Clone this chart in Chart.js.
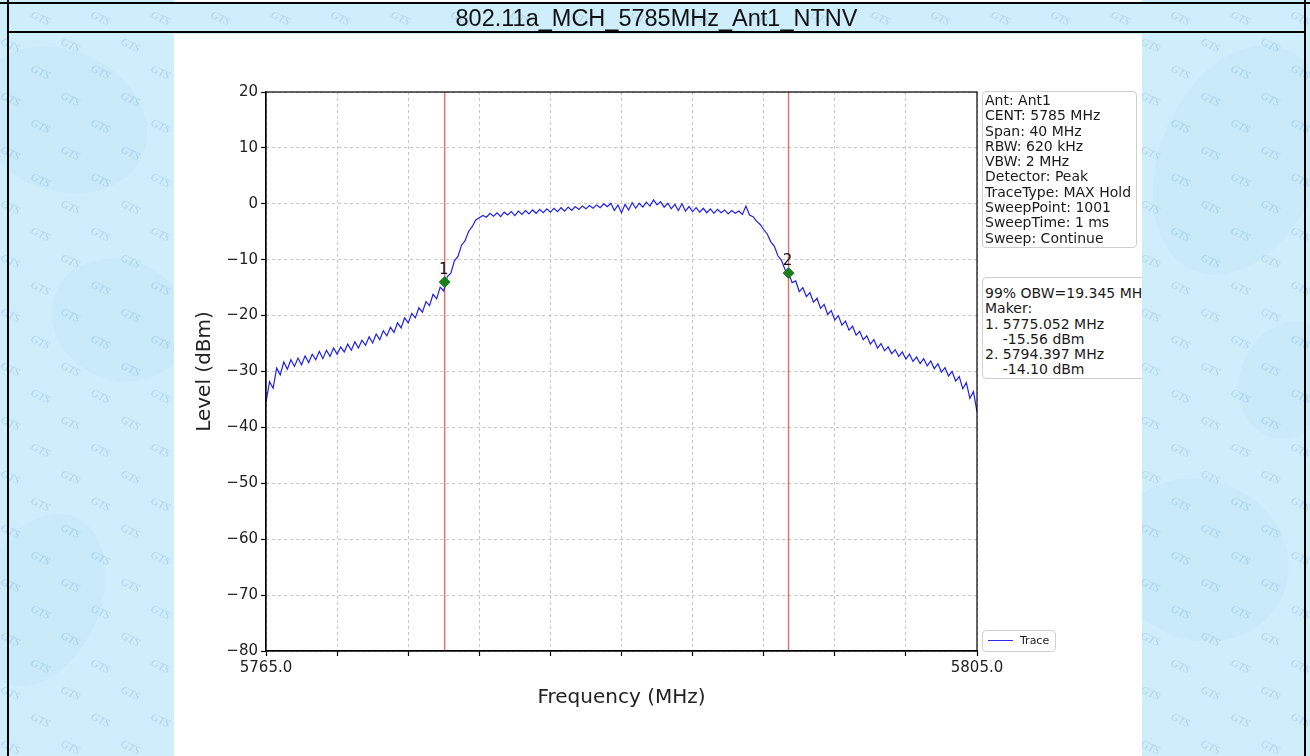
<!DOCTYPE html>
<html><head><meta charset="utf-8">
<script src="https://cdn.jsdelivr.net/npm/chart.js@4.4.0/dist/chart.umd.min.js"></script>
<style>
html,body{margin:0;padding:0;}
body{width:1310px;height:756px;position:relative;overflow:hidden;background:#cfeefc;font-family:"DejaVu Sans",sans-serif;}
#bg{position:absolute;left:0;top:0;}
.bl{position:absolute;background:#000;}
#title{position:absolute;left:9px;top:4px;width:1295px;height:27px;line-height:29px;text-align:center;font-family:"Liberation Sans",Arial,sans-serif;font-size:23.5px;color:#111;}
#panel{position:absolute;left:174px;top:34px;width:968px;height:722px;background:#fff;overflow:hidden;}
#topwhite{position:absolute;left:174px;top:0;width:968px;height:2px;background:#fff;}
.box{position:absolute;border:1px solid #cfcfcf;border-radius:4px;background:#fff;font-size:14px;line-height:15.3px;white-space:pre;color:#1a1a1a;font-family:"DejaVu Sans",sans-serif;}
#chart{position:absolute;left:0;top:0;}
</style></head>
<body>
<canvas id="bg" width="1310" height="756"></canvas>
<div id="topwhite"></div>
<div class="bl" style="left:0;top:2px;width:1310px;height:2px"></div>
<div class="bl" style="left:7px;top:31px;width:1299px;height:2px"></div>
<div class="bl" style="left:7px;top:0;width:2px;height:756px"></div>
<div class="bl" style="left:1304px;top:0;width:2px;height:756px"></div>
<div id="title"></div>
<div id="panel">
  <canvas id="chart" width="968" height="722"></canvas>
  <div id="info" class="box" style="left:808px;top:57px;width:151px;height:151px;padding:1px 0 3px 2px;"></div>
  <div id="obw" class="box" style="left:808px;top:243px;width:190px;height:92px;padding:8px 0 0 2px;"></div>
  <div id="legend" class="box" style="left:808px;top:596px;width:72px;height:20px;font-size:11px;line-height:20px;">
    <span style="position:absolute;left:5px;top:9px;width:25px;height:0;border-top:1.3px solid #2a2ae6;"></span>
    <span id="legendText" style="position:absolute;left:37px;top:0;"></span>
  </div>
</div>
<script>
// ---- data ----
const chartTitle = '802.11a_MCH_5785MHz_Ant1_NTNV';
const START_MHZ = 5765;
const STEP_MHZ = 0.2;
const traceName = 'Trace';
const traceLevels = [
 -35.5, -31.8, -33.0, -29.4, -30.6, -28.3, -29.6, -27.9, -29.1, -27.6,
 -28.8, -27.2, -28.4, -26.9, -27.9, -26.4, -27.7, -26.2, -27.3, -25.8,
 -26.9, -25.6, -26.5, -25.1, -26.2, -24.7, -25.8, -24.4, -25.3, -23.8,
 -24.9, -23.3, -24.3, -22.7, -23.6, -22.1, -23.0, -21.3, -22.2, -20.4,
 -21.3, -19.6, -20.4, -18.6, -19.4, -17.5, -18.2, -16.2, -17.0, -14.9,
 -15.6, -13.0, -12.4, -10.2, -9.4, -7.4, -6.6, -4.9, -4.1, -2.9,
 -2.5, -2.1, -2.4, -1.7, -2.2, -1.6, -2.3, -1.5, -2.0, -1.4,
 -2.1, -1.3, -1.9, -1.2, -1.8, -1.1, -1.7, -1.0, -1.6, -0.9,
 -1.5, -0.8, -1.4, -0.7, -1.3, -0.6, -1.2, -0.5, -1.0, -0.4,
 -0.9, -0.3, -0.8, -0.2, -0.7, 0.0, -0.5, 0.1, -1.2, -0.2,
 -1.6, -0.1, -1.1, 0.2, -0.8, 0.1, -0.6, 0.3, -0.4, 0.7,
 -0.2, 0.4, -0.6, 0.1, -0.9, -0.1, -1.2, 0.0, -1.3, -0.5,
 -1.4, -0.7, -1.5, -0.8, -1.6, -0.9, -1.7, -1.0, -1.6, -1.1,
 -1.8, -1.2, -1.7, -1.3, -1.9, -0.4, -2.0, -2.3, -3.1, -3.7,
 -4.6, -5.4, -6.8, -7.6, -9.3, -10.1, -11.8, -12.4, -14.1, -13.8,
 -15.7, -15.0, -16.6, -15.9, -17.6, -16.9, -18.7, -18.0, -19.8, -19.1,
 -20.8, -20.0, -21.7, -21.0, -22.6, -21.9, -23.5, -22.8, -24.3, -23.6,
 -25.1, -24.3, -25.8, -25.0, -26.3, -25.6, -26.8, -26.1, -27.3, -26.5,
 -27.8, -26.9, -28.2, -27.4, -28.6, -27.7, -29.0, -28.1, -29.5, -28.6,
 -30.1, -29.3, -30.8, -30.0, -31.7, -30.9, -33.1, -32.0, -34.8, -33.6,
 -37.2
];
const markerNames = ['1', '2'];
const markerFreqs = [5775.052, 5794.397];
const markerLevels = [-14.0, -12.4];
const X_MIN = 5765, X_MAX = 5805;
const xTickValues = [5765, 5769, 5773, 5777, 5781, 5785, 5789, 5793, 5797, 5801, 5805];
const xTickLabels = ['5765.0', '', '', '', '', '', '', '', '', '', '5805.0'];
const Y_MIN = -80, Y_MAX = 20, Y_STEP = 10;
const xTitle = 'Frequency (MHz)';
const yTitle = 'Level (dBm)';
const infoLines = ['Ant: Ant1', 'CENT: 5785 MHz', 'Span: 40 MHz', 'RBW: 620 kHz', 'VBW: 2 MHz',
  'Detector: Peak', 'TraceType: MAX Hold', 'SweepPoint: 1001', 'SweepTime: 1 ms', 'Sweep: Continue'];
const obwLines = ['99% OBW=19.345 MHz', 'Maker:', '1. 5775.052 MHz', '    -15.56 dBm', '2. 5794.397 MHz', '    -14.10 dBm'];

// ---- text ----
document.getElementById('title').textContent = chartTitle;
document.getElementById('info').textContent = infoLines.join('\n');
document.getElementById('obw').textContent = obwLines.join('\n');
document.getElementById('legendText').textContent = traceName;

// ---- watermark background ----
(function(){
  const c = document.getElementById('bg').getContext('2d');
  c.fillStyle = '#cfeefc'; c.fillRect(0,0,1310,756);
  c.fillStyle = '#c8eaf9';
  [[60,120,90,70],[120,320,70,60],[1240,160,80,120],[1200,560,90,80],[40,600,60,90],[1290,380,50,60]].forEach(b=>{
    c.beginPath(); c.ellipse(b[0],b[1],b[2],b[3],0.4,0,Math.PI*2); c.fill();
  });
  c.fillStyle = 'rgba(100,155,200,0.33)';
  c.font = 'italic 11px "Liberation Serif"';
  for (let r = 0, y = -10; y < 790; r++, y += 27) {
    for (let x = -60 + (r % 2) * 30; x < 1360; x += 60) {
      c.save(); c.translate(x, y); c.rotate(0.45); c.fillText('GTS', 0, 0); c.restore();
    }
  }
})();

// ---- chart ----
const tracePoints = traceLevels.map((v, i) => ({x: START_MHZ + i * STEP_MHZ, y: v}));
const markerPoints = markerFreqs.map((f, i) => ({x: f, y: markerLevels[i]}));

const framePlugin = {
  id: 'frame',
  beforeDatasetsDraw(chart) {
    const {ctx, chartArea: a, scales: {x}} = chart;
    ctx.save();
    ctx.strokeStyle = 'rgba(215,80,80,0.8)';
    ctx.lineWidth = 1.5;
    markerFreqs.forEach(f => {
      const px = x.getPixelForValue(f);
      ctx.beginPath(); ctx.moveTo(px, a.top); ctx.lineTo(px, a.bottom); ctx.stroke();
    });
    ctx.restore();
  },
  afterDatasetsDraw(chart) {
    const {ctx, chartArea: a, scales: {x, y}} = chart;
    ctx.save();
    ctx.fillStyle = '#111';
    ctx.font = '15px "DejaVu Sans"';
    ctx.textAlign = 'center';
    ctx.textBaseline = 'alphabetic';
    markerNames.forEach((n, i) => {
      ctx.fillText(n, x.getPixelForValue(markerFreqs[i]) - 1, y.getPixelForValue(markerLevels[i]) - 8);
    });
    ctx.strokeStyle = '#000';
    ctx.lineWidth = 1.2;
    ctx.strokeRect(a.left, a.top, a.right - a.left, a.bottom - a.top);
    ctx.restore();
  }
};

const gridOpts = {color: '#c6c6c6', lineWidth: 1, tickLength: 5, tickColor: '#000', tickWidth: 1.2, tickBorderDash: []};
const borderOpts = {display: true, color: '#000', width: 1.2, dash: [3, 3]};

new Chart(document.getElementById('chart'), {
  type: 'line',
  data: {datasets: [
    {label: 'Marker', type: 'scatter', data: markerPoints, pointStyle: 'rectRot', pointRadius: 5.5,
     backgroundColor: '#1e7e1e', borderColor: '#1e7e1e', showLine: false, order: 0},
    {label: traceName, data: tracePoints, borderColor: '#2020e8', borderWidth: 1.2, pointRadius: 0,
     tension: 0, fill: false, order: 1}
  ]},
  options: {
    responsive: false, animation: false, devicePixelRatio: 1,
    layout: {padding: {left: 0, right: 165, top: 58, bottom: 0}},
    plugins: {legend: {display: false}, tooltip: {enabled: false}},
    scales: {
      x: {
        type: 'linear', min: X_MIN, max: X_MAX,
        afterBuildTicks(s) { s.ticks = xTickValues.map(v => ({value: v})); },
        afterFit(s) { s.height = 105; },
        ticks: {autoSkip: false, maxRotation: 0, padding: 3, color: '#222',
          font: {family: 'DejaVu Sans', size: 15},
          callback: (v) => { const k = xTickValues.indexOf(v); return k >= 0 ? xTickLabels[k] : ''; }},
        grid: gridOpts, border: borderOpts,
        title: {display: true, text: xTitle, color: '#222', font: {family: 'DejaVu Sans', size: 20},
          padding: {top: 0, bottom: 46}}
      },
      y: {
        type: 'linear', min: Y_MIN, max: Y_MAX,
        afterFit(s) { s.width = 92; },
        ticks: {stepSize: Y_STEP, padding: 3, color: '#222', font: {family: 'DejaVu Sans', size: 15},
          callback: (v) => v < 0 ? '\u2212' + (-v) : String(v)},
        grid: gridOpts, border: borderOpts,
        title: {display: true, text: yTitle, color: '#222', font: {family: 'DejaVu Sans', size: 20},
          padding: {top: 19, bottom: 0}}
      }
    }
  },
  plugins: [framePlugin]
});
</script>
</body></html>
